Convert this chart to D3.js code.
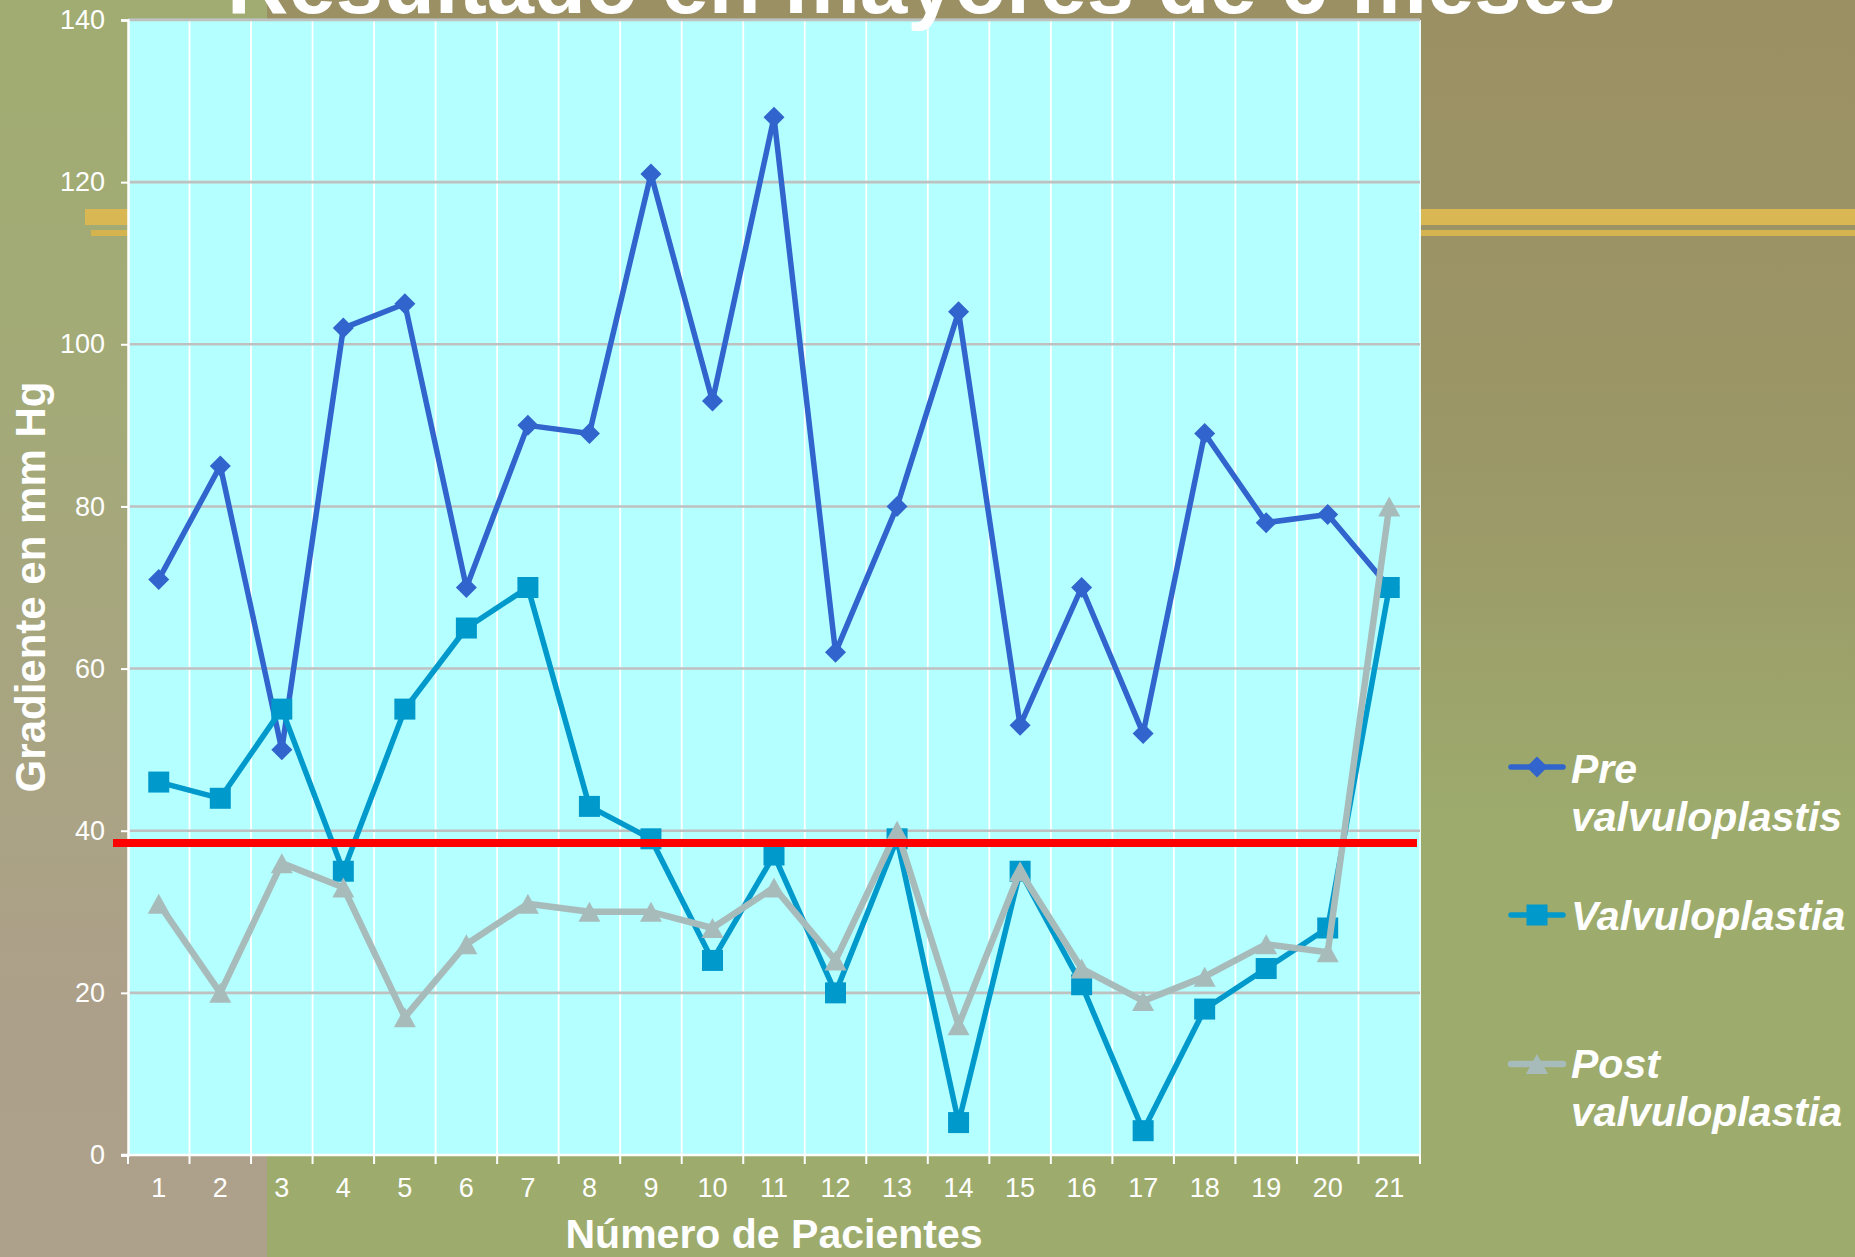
<!DOCTYPE html>
<html>
<head>
<meta charset="utf-8">
<script src="https://cdn.jsdelivr.net/npm/d3@7"></script>
<style>
  html, body { margin: 0; padding: 0; background: #9dab6d; }
  svg { display: block; }
  text { font-family: "Liberation Sans", Arial, sans-serif; }
</style>
</head>
<body>
<svg id="chart" width="1855" height="1257"></svg>
<script>
// ---------------- DATA ----------------
const categories = ["1","2","3","4","5","6","7","8","9","10","11","12","13","14","15","16","17","18","19","20","21"];
const preValues  = [71, 85, 50, 102, 105, 70, 90, 89, 121, 93, 128, 62, 80, 104, 53, 70, 52, 89, 78, 79, 70];
const valvValues = [46, 44, 55, 35, 55, 65, 70, 43, 39, 24, 37, 20, 39, 4, 35, 21, 3, 18, 23, 28, 70];
const postValues = [31, 20, 36, 33, 17, 26, 31, 30, 30, 28, 33, 24, 40, 16, 35, 23, 19, 22, 26, 25, 80];
const seriesNames = ["Pre valvuloplastis", "Valvuloplastia", "Post valvuloplastia"];
const yTickValues = [0, 20, 40, 60, 80, 100, 120, 140];
const thresholdValue = 38.5;
const titleText = "Resultado en mayores de 6 meses";
const xAxisTitle = "Número de Pacientes";
const yAxisTitle = "Gradiente en mm Hg";

// ---------------- LAYOUT ----------------
const W = 1855, H = 1257;
const plot = { left: 128, right: 1420, top: 20, bottom: 1155 };
const svg = d3.select("#chart");
const defs = svg.append("defs");

// background gradients
const gA = defs.append("linearGradient").attr("id","bgA").attr("x1",0).attr("y1",0).attr("x2",0).attr("y2",1);
gA.append("stop").attr("offset","0").attr("stop-color","#a0ac71");
gA.append("stop").attr("offset","0.3").attr("stop-color","#a3aa77");
gA.append("stop").attr("offset","0.8").attr("stop-color","#ada08a");
gA.append("stop").attr("offset","1").attr("stop-color","#aea18b");
const gB = defs.append("linearGradient").attr("id","bgB").attr("x1",0).attr("y1",0).attr("x2",0).attr("y2",1);
gB.append("stop").attr("offset","0").attr("stop-color","#9b9064");
gB.append("stop").attr("offset","0.3").attr("stop-color","#9b9566");
gB.append("stop").attr("offset","0.45").attr("stop-color","#9c9c69");
gB.append("stop").attr("offset","0.65").attr("stop-color","#9dab6d");
gB.append("stop").attr("offset","1").attr("stop-color","#9dac6d");

svg.append("rect").attr("x",0).attr("y",0).attr("width",267).attr("height",H).attr("fill","url(#bgA)");
svg.append("rect").attr("x",267).attr("y",0).attr("width",W-267).attr("height",H).attr("fill","url(#bgB)");

// gold stripes
svg.append("rect").attr("x",85).attr("y",209).attr("width",W-85).attr("height",16).attr("fill","#d9b752");
svg.append("rect").attr("x",91).attr("y",230).attr("width",W-91).attr("height",6).attr("fill","#d5b34f");

// ---------------- SCALES ----------------
const x = d3.scaleBand().domain(categories).range([plot.left, plot.right]).padding(0);
const y = d3.scaleLinear().domain([0, 140]).range([plot.bottom, plot.top]);
const cx = d => x(d) + x.bandwidth() / 2;

// plot area
svg.append("rect")
  .attr("x", plot.left).attr("y", plot.top)
  .attr("width", plot.right - plot.left).attr("height", plot.bottom - plot.top)
  .attr("fill", "#b4ffff");
svg.append("line").attr("x1",plot.left).attr("x2",plot.right).attr("y1",plot.top-0.5).attr("y2",plot.top-0.5)
  .attr("stroke","#b6c6c6").attr("stroke-width",2);
svg.append("line").attr("x1",plot.right).attr("x2",plot.right).attr("y1",plot.top).attr("y2",plot.bottom)
  .attr("stroke","#e6ffff").attr("stroke-width",2);

// vertical gridlines at band boundaries
const boundaries = categories.map(c => x(c)).concat([x.range()[1]]);
svg.append("g").selectAll("line").data(boundaries.slice(1, -1)).join("line")
  .attr("x1", d => d).attr("x2", d => d)
  .attr("y1", plot.top).attr("y2", plot.bottom)
  .attr("stroke", "#ffffff").attr("stroke-width", 1.8);

// horizontal gridlines
svg.append("g").selectAll("line").data(yTickValues.filter(v => v > 0)).join("line")
  .attr("x1", plot.left).attr("x2", plot.right)
  .attr("y1", d => y(d)).attr("y2", d => y(d))
  .attr("stroke", "#bfc0c0").attr("stroke-width", 2.6);

// y axis
const yAxis = svg.append("g").attr("transform", `translate(${plot.left},0)`)
  .call(d3.axisLeft(y).tickValues(yTickValues).tickSize(7).tickPadding(16).tickFormat(d3.format("d")));
yAxis.select(".domain").attr("stroke", "#ffffff").attr("stroke-width", 2.5);
yAxis.selectAll(".tick line").attr("stroke", "#ffffff").attr("stroke-width", 2);
yAxis.selectAll(".tick text").attr("fill", "#ffffff").attr("font-size", 27)
  .attr("font-family", "'Liberation Sans', Arial, sans-serif");

// x axis: labels at band centers
const xAxis = svg.append("g").attr("transform", `translate(0,${plot.bottom})`)
  .call(d3.axisBottom(x).tickSize(0).tickPadding(23));
xAxis.select(".domain").remove();
xAxis.selectAll(".tick text").attr("fill", "#ffffff").attr("font-size", 27)
  .attr("font-family", "'Liberation Sans', Arial, sans-serif");
// bottom axis line & tick marks at boundaries
svg.append("line").attr("x1", plot.left - 7).attr("x2", plot.right)
  .attr("y1", plot.bottom).attr("y2", plot.bottom)
  .attr("stroke", "#ffffff").attr("stroke-width", 2.5);
svg.append("g").selectAll("line").data(boundaries).join("line")
  .attr("x1", d => d).attr("x2", d => d)
  .attr("y1", plot.bottom).attr("y2", plot.bottom + 9)
  .attr("stroke", "#ffffff").attr("stroke-width", 2);

// ---------------- SERIES ----------------
function diamondPath(r) { return `M0,${-r}L${r},0L0,${r}L${-r},0Z`; }
function squarePath(s) { const h = s / 2; return `M${-h},${-h}H${h}V${h}H${-h}Z`; }
function trianglePath(w, h) { return `M0,${-h/2}L${w/2},${h/2}L${-w/2},${h/2}Z`; }

const series = [
  { name: seriesNames[0], values: preValues,  color: "#3164cc", width: 5.5, marker: diamondPath(10.5) },
  { name: seriesNames[1], values: valvValues, color: "#0099cc", width: 5.5, marker: squarePath(21) },
  { name: seriesNames[2], values: postValues, color: "#a8bbbb", width: 6.5, marker: trianglePath(22, 20) }
];

const line = d3.line().x((d, i) => cx(categories[i])).y(d => y(d));

series.forEach(s => {
  const g = svg.append("g");
  g.append("path").datum(s.values).attr("d", line)
    .attr("fill", "none").attr("stroke", s.color).attr("stroke-width", s.width)
    .attr("stroke-linejoin", "round").attr("stroke-linecap", "round");
  g.selectAll("path.m").data(s.values).join("path").attr("class", "m")
    .attr("d", s.marker)
    .attr("transform", (d, i) => `translate(${cx(categories[i])},${y(d)})`)
    .attr("fill", s.color);
});

// threshold red line
svg.append("line")
  .attr("x1", 113).attr("x2", 1417)
  .attr("y1", y(thresholdValue)).attr("y2", y(thresholdValue))
  .attr("stroke", "#ff0000").attr("stroke-width", 8);

// ---------------- AXIS TITLES ----------------
svg.append("text").attr("x", (plot.left + plot.right) / 2).attr("y", 1248)
  .attr("text-anchor", "middle").attr("fill", "#ffffff")
  .attr("font-size", 41).attr("font-weight", "bold").text(xAxisTitle);

svg.append("text").attr("transform", "translate(45,587) rotate(-90)")
  .attr("text-anchor", "middle").attr("fill", "#ffffff")
  .attr("font-size", 42).attr("font-weight", "bold").text(yAxisTitle);

// ---------------- LEGEND ----------------
const legendRows = [
  { s: series[0], y: 767, lines: ["Pre", "valvuloplastis"], base: 783 },
  { s: series[1], y: 915, lines: ["Valvuloplastia"], base: 930 },
  { s: series[2], y: 1064, lines: ["Post", "valvuloplastia"], base: 1078 }
];
const lg = svg.append("g");
legendRows.forEach(r => {
  lg.append("line").attr("x1", 1511).attr("x2", 1563).attr("y1", r.y).attr("y2", r.y)
    .attr("stroke", r.s.color).attr("stroke-width", r.s.width).attr("stroke-linecap", "round");
  lg.append("path").attr("d", r.s.marker).attr("transform", `translate(1537,${r.y})`).attr("fill", r.s.color);
  const t = lg.append("text").attr("x", 1571).attr("y", r.base).attr("fill", "#ffffff")
    .attr("font-size", 41).attr("font-weight", "bold").attr("font-style", "italic");
  r.lines.forEach((ln, i) => {
    t.append("tspan").attr("x", 1571).attr("dy", i === 0 ? 0 : 48).text(ln);
  });
});

// ---------------- TITLE (cut off at top, as in the reference) ----------------
svg.append("text").attr("x", 227).attr("y", 12.5)
  .attr("fill", "#ffffff").attr("font-size", 85).attr("font-weight", "bold")
  .text(titleText);
</script>
</body>
</html>
